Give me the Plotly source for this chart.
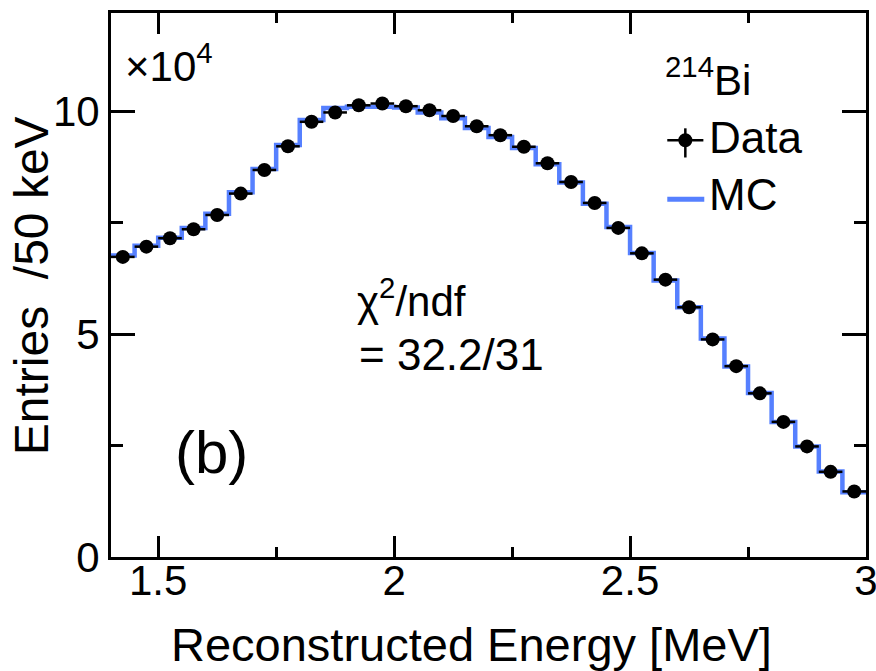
import numpy as np
import plotly.graph_objects as go

# ---- data (entries per 50 keV bin, in units of 10^4) ----
bin_lo, bin_width, n_bins = 1.40, 0.05, 32
data_e4 = [6.73, 6.96, 7.15, 7.35, 7.67, 8.15, 8.68, 9.21, 9.76, 9.97, 10.13, 10.17,
           10.11, 10.02, 9.89, 9.66, 9.46, 9.20, 8.83, 8.41, 7.94, 7.38, 6.81, 6.22,
           5.60, 4.88, 4.28, 3.67, 3.03, 2.48, 1.91, 1.47]
mc_e4 = [6.76, 6.98, 7.16, 7.38, 7.70, 8.18, 8.70, 9.24, 9.80, 10.07, 10.10, 10.10,
         10.08, 9.97, 9.84, 9.62, 9.42, 9.17, 8.81, 8.40, 7.92, 7.40, 6.82, 6.20,
         5.60, 4.90, 4.27, 3.68, 3.03, 2.48, 1.92, 1.45]
x_ticks = [1.5, 2.0, 2.5, 3.0]
x_ticktext = ["1.5", "2", "2.5", "3"]
y_ticks = [0, 5, 10]
y_ticktext = ["0", "5", "10"]

edges = bin_lo + bin_width * np.arange(n_bins + 1)
centers = 0.5 * (edges[:-1] + edges[1:])
data_err = np.sqrt(np.array(data_e4) * 1e4) / 1e4

FONT = "Liberation Sans, Arial, Helvetica, sans-serif"
BLUE = "#5680ff"

fig = go.Figure()
fig.add_trace(go.Scatter(
    x=edges, y=list(mc_e4) + [mc_e4[-1]], mode="lines", line_shape="hv",
    line=dict(color=BLUE, width=4.5), showlegend=False, hoverinfo="skip"))
fig.add_trace(go.Scatter(
    x=centers, y=data_e4, mode="markers",
    marker=dict(color="black", size=14),
    error_x=dict(type="constant", value=bin_width / 2, color="black", thickness=2.5, width=0),
    error_y=dict(type="data", array=data_err, color="black", thickness=2.5, width=0),
    showlegend=False))

axis_common = dict(showline=True, linecolor="black", linewidth=3, mirror="ticks",
                   ticks="inside", tickcolor="black", tickwidth=2.5,
                   showgrid=False, zeroline=False, automargin=False,
                   ticklabeloverflow="allow",
                   tickfont=dict(family=FONT, size=42, color="black"))
fig.update_xaxes(range=[1.4, 3.0], tickvals=x_ticks, ticktext=x_ticktext, ticklen=21,
                 ticklabelstandoff=-15,
                 minor=dict(tickvals=[1.75, 2.25, 2.75], ticklen=10, tickwidth=2.5,
                            tickcolor="black", ticks="inside", showgrid=False),
                 **axis_common)
fig.update_yaxes(range=[0, 12.2], tickvals=y_ticks, ticktext=y_ticktext, ticklen=24,
                 minor=dict(tickvals=[2.5, 7.5], ticklen=12, tickwidth=2.5,
                            tickcolor="black", ticks="inside", showgrid=False),
                 **axis_common)

ann = []
def txt(s, x, y, size, xanchor="left", textangle=0):
    ann.append(dict(text=s, x=x, y=y, xref="paper", yref="paper", showarrow=False,
                    xanchor=xanchor, yanchor="middle", textangle=textangle,
                    font=dict(family=FONT, size=size, color="black")))

txt("Reconstructed Energy [MeV]", 0.478, -0.1614, 47, xanchor="center")
txt("Entries&nbsp; /50 keV", -0.106, 0.4995, 48, xanchor="center", textangle=-90)
txt("×10<sup>4</sup>", 0.0163, 0.9075, 42)
txt("<sup>214</sup>Bi", 0.7315, 0.8818, 42)
txt("Data", 0.790, 0.771, 44)
txt("MC", 0.790, 0.666, 44)
txt("χ<sup>2</sup>/ndf", 0.3236, 0.476, 42)
txt("= 32.2/31", 0.3261, 0.372, 44)
txt("(b)", 0.0825, 0.1925, 60)

shapes = [
    dict(type="line", xref="paper", yref="paper", x0=0.7368, x1=0.7846, y0=0.766, y1=0.766,
         line=dict(color="black", width=2.5)),
    dict(type="line", xref="paper", yref="paper", x0=0.7607, x1=0.7607, y0=0.7344, y1=0.788,
         line=dict(color="black", width=2.5)),
    dict(type="circle", xref="paper", yref="paper", xsizemode="pixel", ysizemode="pixel",
         xanchor=0.7607, yanchor=0.766, x0=-7, x1=7, y0=-7, y1=7,
         fillcolor="black", line=dict(color="black", width=0)),
    dict(type="line", xref="paper", yref="paper", x0=0.7368, x1=0.7858, y0=0.6575, y1=0.6575,
         line=dict(color=BLUE, width=5)),
]

fig.update_layout(
    width=876, height=671, autosize=False,
    margin=dict(l=111, r=10, t=13, b=114, pad=0),
    plot_bgcolor="white", paper_bgcolor="white",
    annotations=ann, shapes=shapes, showlegend=False,
)
fig.write_html("out.html")
